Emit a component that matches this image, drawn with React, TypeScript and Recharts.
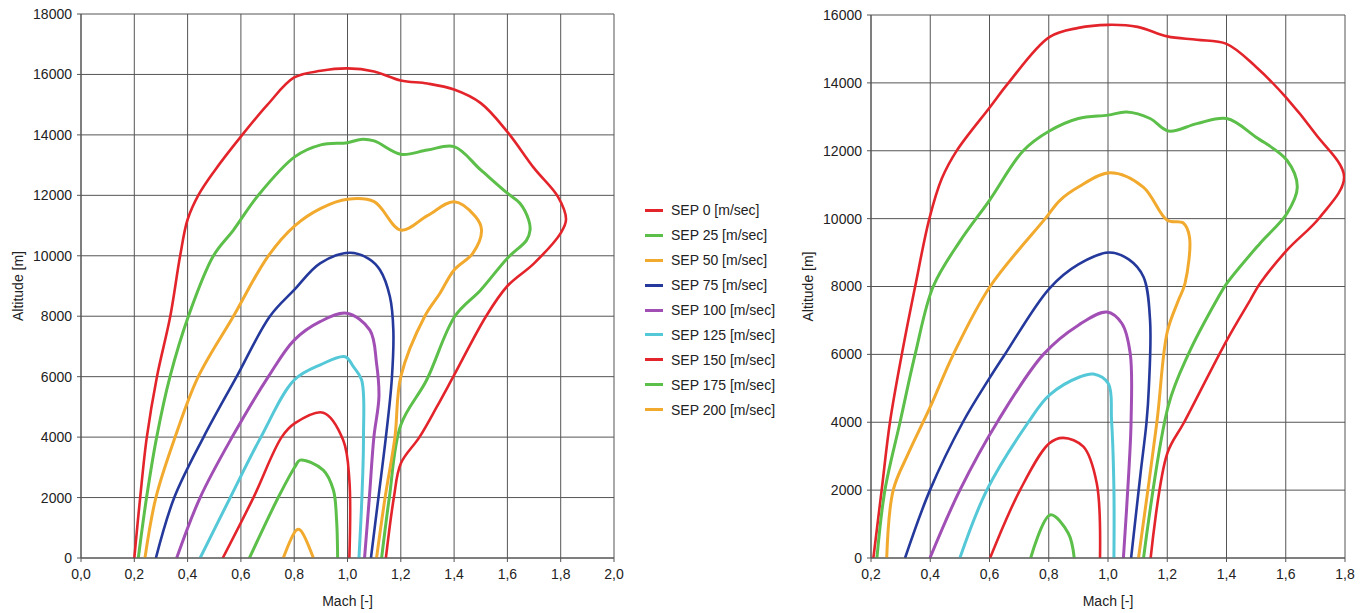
import React from 'react';
import { LineChart, Line, XAxis, YAxis, CartesianGrid } from 'recharts';

// [Mach, altitude m] points, left envelope
const sep0L = [[0.2, 0], [0.222, 2000], [0.247, 4000], [0.285, 6000], [0.335, 8000], [0.372, 10000], [0.4, 11200], [0.44, 12000], [0.5, 12800], [0.605, 14000], [0.7, 15000], [0.8, 15900], [0.9, 16120], [1.0, 16200], [1.1, 16100], [1.2, 15800], [1.3, 15700], [1.4, 15500], [1.5, 15050], [1.6, 14100], [1.7, 12900], [1.79, 11950], [1.82, 11200], [1.8, 10750], [1.7, 9750], [1.6, 9000], [1.52, 8000], [1.4, 6050], [1.335, 5000], [1.27, 4000], [1.2, 3130], [1.174, 2000], [1.144, 0]];
const sep25L = [[0.215, 0], [0.246, 2000], [0.284, 4000], [0.334, 6000], [0.403, 8000], [0.497, 10000], [0.572, 10850], [0.665, 12000], [0.803, 13280], [0.9, 13670], [1.0, 13740], [1.05, 13850], [1.1, 13800], [1.2, 13360], [1.3, 13500], [1.4, 13610], [1.5, 12840], [1.6, 12070], [1.647, 11740], [1.68, 11180], [1.685, 10850], [1.672, 10520], [1.6, 9920], [1.5, 8870], [1.403, 8000], [1.297, 5890], [1.2, 4400], [1.157, 2000], [1.128, 0]];
const sep50L = [[0.24, 0], [0.281, 2000], [0.353, 4000], [0.44, 6000], [0.572, 8000], [0.703, 10000], [0.803, 11000], [0.9, 11570], [1.0, 11870], [1.1, 11790], [1.2, 10850], [1.3, 11330], [1.4, 11790], [1.48, 11300], [1.503, 10850], [1.47, 10080], [1.4, 9530], [1.347, 8760], [1.29, 8000], [1.2, 6000], [1.178, 4000], [1.141, 2000], [1.109, 0]];
const sep75L = [[0.281, 0], [0.35, 2000], [0.46, 4000], [0.584, 6000], [0.709, 8000], [0.8, 8870], [0.897, 9750], [1.009, 10100], [1.08, 9900], [1.122, 9530], [1.159, 8650], [1.172, 7540], [1.166, 5890], [1.144, 4000], [1.116, 2000], [1.088, 0]];
const sep100L = [[0.359, 0], [0.447, 2000], [0.567, 4000], [0.703, 6000], [0.8, 7210], [0.897, 7820], [0.997, 8100], [1.084, 7540], [1.109, 6440], [1.118, 5340], [1.099, 4000], [1.082, 2000], [1.064, 0]];
const sep125L = [[0.447, 0], [0.56, 2000], [0.675, 4000], [0.8, 5890], [0.9, 6400], [0.991, 6660], [1.022, 6330], [1.053, 5890], [1.06, 4000], [1.054, 2000], [1.043, 0]];
const sep150L = [[0.532, 0], [0.647, 2000], [0.753, 4000], [0.803, 4460], [0.909, 4810], [0.984, 3900], [1.007, 2580], [1.007, 0]];
const sep175L = [[0.632, 0], [0.74, 2000], [0.803, 3020], [0.822, 3240], [0.909, 2910], [0.947, 2250], [0.959, 1260], [0.963, 0]];
const sep200L = [[0.759, 0], [0.809, 930], [0.822, 930], [0.872, 0]];

// right envelope
const sep0R = [[0.208, 0], [0.236, 2000], [0.264, 4000], [0.304, 6000], [0.349, 8000], [0.397, 10000], [0.439, 11180], [0.49, 12010], [0.602, 13290], [0.664, 14000], [0.802, 15350], [0.9, 15620], [1.0, 15710], [1.1, 15650], [1.2, 15370], [1.3, 15270], [1.4, 15150], [1.5, 14470], [1.6, 13580], [1.7, 12500], [1.797, 11230], [1.716, 10050], [1.604, 9070], [1.513, 8090], [1.48, 7600], [1.4, 6400], [1.257, 4000], [1.2, 3080], [1.144, 0]];
const sep25R = [[0.22, 0], [0.247, 2000], [0.298, 4000], [0.349, 6000], [0.41, 8000], [0.5, 9330], [0.6, 10540], [0.714, 12000], [0.802, 12580], [0.9, 12950], [1.0, 13050], [1.063, 13140], [1.142, 12950], [1.204, 12580], [1.3, 12800], [1.401, 12950], [1.5, 12400], [1.604, 11720], [1.639, 10930], [1.604, 10150], [1.513, 9270], [1.401, 8090], [1.367, 7600], [1.271, 6000], [1.204, 4500], [1.12, 0]];
const sep50R = [[0.253, 0], [0.275, 2000], [0.326, 3080], [0.4, 4450], [0.478, 6000], [0.602, 8000], [0.788, 10000], [0.838, 10540], [0.9, 10930], [1.007, 11350], [1.119, 10930], [1.2, 9950], [1.254, 9870], [1.275, 9460], [1.26, 8090], [1.238, 7600], [1.2, 6660], [1.165, 4000], [1.103, 0]];
const sep75R = [[0.315, 0], [0.399, 2000], [0.51, 4000], [0.6, 5300], [0.652, 6000], [0.802, 7940], [0.9, 8650], [1.003, 9000], [1.07, 8800], [1.12, 8280], [1.142, 7000], [1.138, 5040], [1.13, 4000], [1.11, 2500], [1.078, 0]];
const sep100R = [[0.399, 0], [0.5, 2000], [0.63, 4060], [0.782, 6000], [0.9, 6860], [0.996, 7250], [1.047, 6910], [1.075, 6030], [1.078, 4060], [1.07, 2500], [1.052, 0]];
const sep125R = [[0.5, 0], [0.591, 2000], [0.731, 4000], [0.802, 4800], [0.906, 5340], [0.951, 5420], [1.001, 5140], [1.012, 4060], [1.02, 2000], [1.02, 0]];
const sep150R = [[0.602, 0], [0.703, 2000], [0.802, 3380], [0.849, 3540], [0.917, 3280], [0.962, 2200], [0.973, 0]];
const sep175R = [[0.739, 0], [0.805, 1270], [0.866, 730], [0.886, 0]];

const seriesNames = ['SEP 0 [m/sec]', 'SEP 25 [m/sec]', 'SEP 50 [m/sec]', 'SEP 75 [m/sec]', 'SEP 100 [m/sec]', 'SEP 125 [m/sec]', 'SEP 150 [m/sec]', 'SEP 175 [m/sec]', 'SEP 200 [m/sec]'];
const COLORS = ['#e3242b', '#5cbf4a', '#f2aa2e', '#24399b', '#a14fb5', '#55c8d8', '#e3242b', '#5cbf4a', '#f2aa2e'];
const WIDTHS = [2.6, 3, 3, 2.6, 3, 3, 2.6, 3, 3];

const leftSeries = [sep0L, sep25L, sep50L, sep75L, sep100L, sep125L, sep150L, sep175L, sep200L];
const rightSeries = [sep0R, sep25R, sep50R, sep75R, sep100R, sep125R, sep150R, sep175R];

const leftXTicks = [0, 0.2, 0.4, 0.6, 0.8, 1.0, 1.2, 1.4, 1.6, 1.8, 2.0];
const leftYTicks = [0, 2000, 4000, 6000, 8000, 10000, 12000, 14000, 16000, 18000];
const rightXTicks = [0.2, 0.4, 0.6, 0.8, 1.0, 1.2, 1.4, 1.6, 1.8];
const rightYTicks = [0, 2000, 4000, 6000, 8000, 10000, 12000, 14000, 16000];

const toPts = (a: number[][]) => a.map(([m, alt]) => ({ m, alt }));
const fmtMach = (v: number) => v.toFixed(1).replace('.', ',');

// centripetal catmull-rom, works for the closed-ish loops where x goes back
const smooth = (ctx: any) => {
  let p: number[][] = [];
  const dist = (u: number[], v: number[]) => Math.sqrt(Math.hypot(u[0] - v[0], u[1] - v[1]));
  return {
    areaStart() {},
    areaEnd() {},
    lineStart() { p = []; },
    point(x: number, y: number) { p.push([+x, +y]); },
    lineEnd() {
      if (!p.length) return;
      ctx.moveTo(p[0][0], p[0][1]);
      for (let i = 0; i < p.length - 1; i++) {
        const p0 = p[i - 1], p1 = p[i], p2 = p[i + 1], p3 = p[i + 2];
        const l12 = dist(p1, p2), l12b = l12 * l12;
        let c1 = [p1[0], p1[1]];
        let c2 = [p2[0], p2[1]];
        if (p0) {
          const l01 = dist(p0, p1);
          if (l01 > 1e-9) {
            const l01b = l01 * l01;
            const A = 2 * l01b + 3 * l01 * l12 + l12b, N = 3 * l01 * (l01 + l12);
            c1 = [(p1[0] * A - p0[0] * l12b + p2[0] * l01b) / N, (p1[1] * A - p0[1] * l12b + p2[1] * l01b) / N];
          }
        }
        if (p3) {
          const l23 = dist(p2, p3);
          if (l23 > 1e-9) {
            const l23b = l23 * l23;
            const B = 2 * l23b + 3 * l23 * l12 + l12b, M = 3 * l23 * (l23 + l12);
            c2 = [(p2[0] * B + p1[0] * l23b - p3[0] * l12b) / M, (p2[1] * B + p1[1] * l23b - p3[1] * l12b) / M];
          }
        }
        ctx.bezierCurveTo(c1[0], c1[1], c2[0], c2[1], p2[0], p2[1]);
      }
    },
  };
};

const GRID = '#555';
const tickStyle = { fill: '#222', fontSize: 14 };

const yTitle = (dx: number) => (props: any) => {
  const vb = props.viewBox;
  const x = vb.x + dx;
  const y = vb.y + vb.height / 2;
  return (
    <text x={x} y={y} transform={`rotate(-90 ${x} ${y})`} textAnchor="middle" dominantBaseline="central" fill="#222" fontSize={14}>
      Altitude [m]
    </text>
  );
};

const xTitle = (props: any) => {
  const vb = props.viewBox;
  return (
    <text x={vb.x + vb.width / 2} y={vb.y + 43} textAnchor="middle" dominantBaseline="central" fill="#222" fontSize={14}>
      Mach [-]
    </text>
  );
};

const Envelope = ({ series, xDomain, xTicks, yDomain, yTicks, width, margin, yWidth, titleDx }: any) => (
  <LineChart width={width} height={613} margin={margin}>
    <CartesianGrid stroke={GRID} strokeWidth={1} />
    <XAxis
      dataKey="m"
      type="number"
      domain={xDomain}
      ticks={xTicks}
      interval={0}
      tickFormatter={fmtMach}
      height={50}
      tick={tickStyle}
      tickSize={4}
      tickMargin={7}
      stroke={GRID}
      allowDataOverflow
      label={{ content: xTitle }}
    />
    <YAxis
      dataKey="alt"
      type="number"
      domain={yDomain}
      ticks={yTicks}
      interval={0}
      width={yWidth}
      tick={tickStyle}
      tickSize={4}
      tickMargin={5}
      stroke={GRID}
      allowDataOverflow
      label={{ content: yTitle(titleDx) }}
    />
    {series.map((s: number[][], i: number) => (
      <Line
        key={seriesNames[i]}
        name={seriesNames[i]}
        data={toPts(s)}
        dataKey="alt"
        type={smooth as any}
        stroke={COLORS[i]}
        strokeWidth={WIDTHS[i]}
        dot={false}
        activeDot={false}
        isAnimationActive={false}
      />
    ))}
  </LineChart>
);

export default function App() {
  return (
    <div style={{ position: 'absolute', left: 0, top: 0, width: 1372, height: 613, background: '#fff', fontFamily: '"Liberation Sans", Arial, sans-serif' }}>
      <div style={{ position: 'absolute', left: 0, top: 0 }}>
        <Envelope
          series={leftSeries}
          xDomain={[0, 2]}
          xTicks={leftXTicks}
          yDomain={[0, 18000]}
          yTicks={leftYTicks}
          width={640}
          margin={{ top: 14, right: 26, bottom: 5, left: 0 }}
          yWidth={81}
          titleDx={17.5}
        />
      </div>
      <div style={{ position: 'absolute', left: 800, top: 0 }}>
        <Envelope
          series={rightSeries}
          xDomain={[0.2, 1.8]}
          xTicks={rightXTicks}
          yDomain={[0, 16000]}
          yTicks={rightYTicks}
          width={572}
          margin={{ top: 15, right: 27, bottom: 5, left: 0 }}
          yWidth={71}
          titleDx={7.5}
        />
      </div>
      <div style={{ position: 'absolute', left: 645, top: 198, fontSize: 14, color: '#222' }}>
        {seriesNames.map((n, i) => (
          <div key={n} style={{ height: 24.9, display: 'flex', alignItems: 'center' }}>
            <span style={{ display: 'inline-block', width: 18, height: 3, background: COLORS[i], marginRight: 8 }} />
            <span>{n}</span>
          </div>
        ))}
      </div>
    </div>
  );
}
